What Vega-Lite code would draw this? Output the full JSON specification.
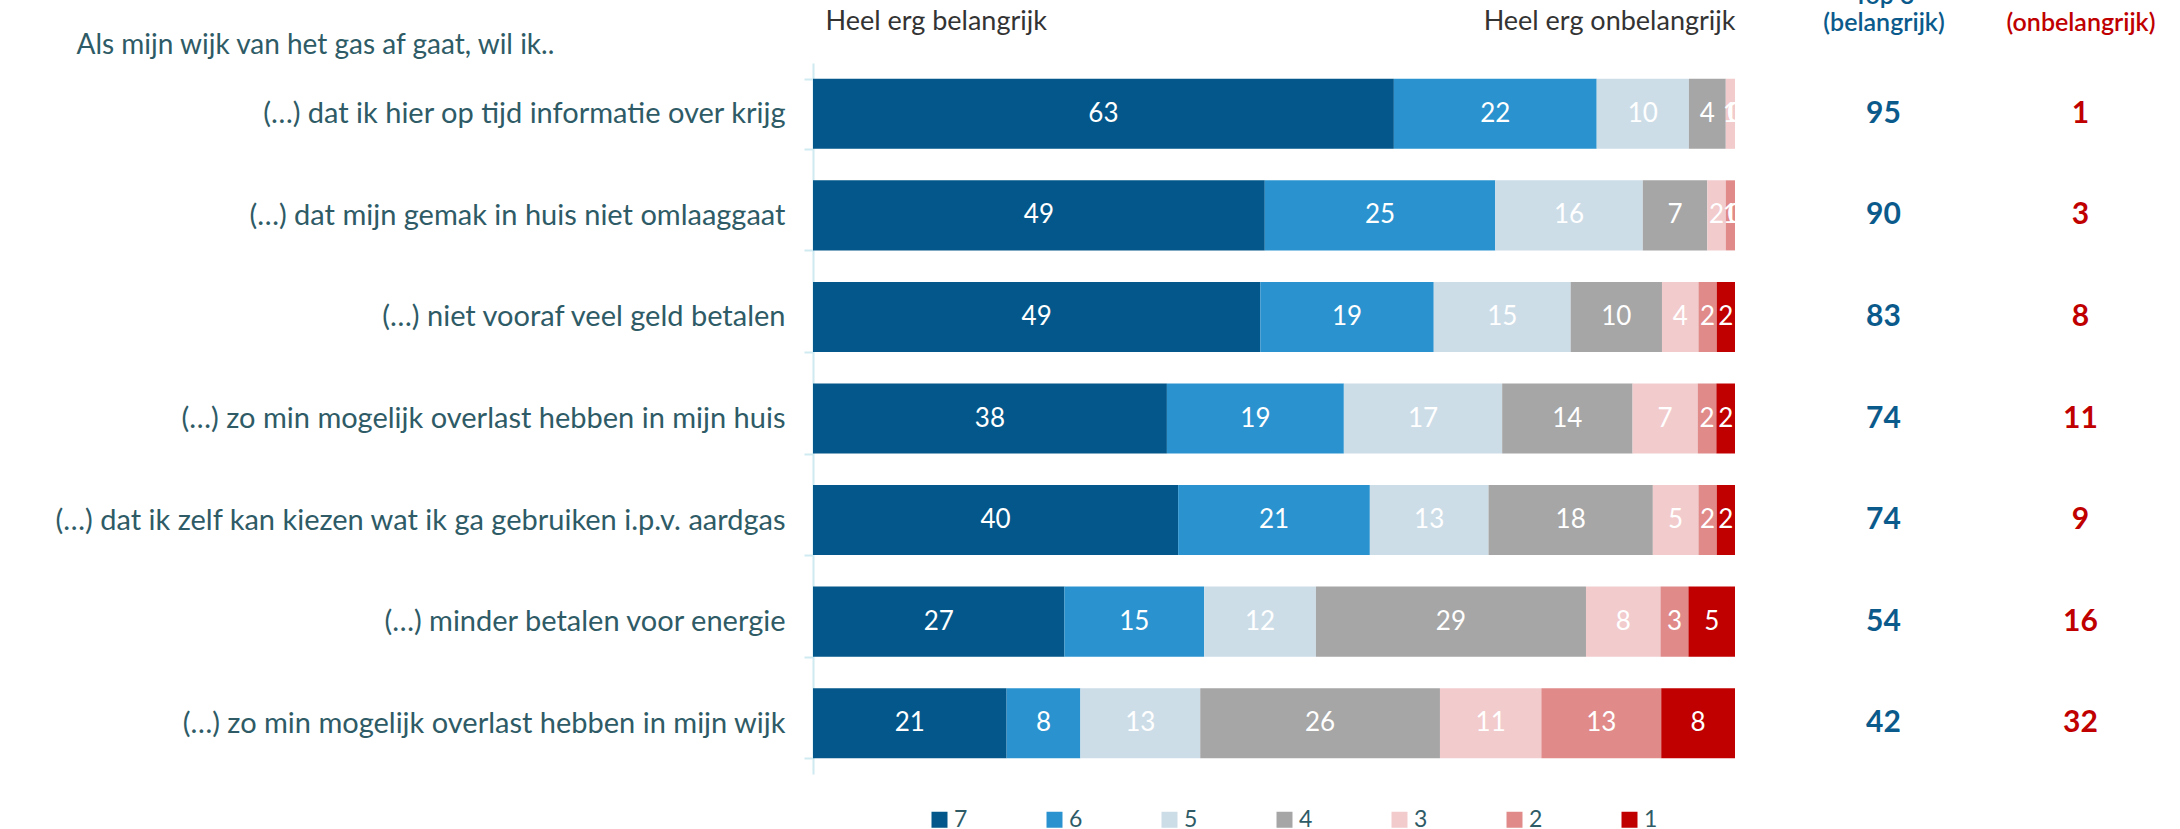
{
  "$schema": "https://vega.github.io/schema/vega-lite/v6.json",
  "background": "white",
  "padding": {"left": 53, "top": -17, "right": 0, "bottom": 0},
  "spacing": 50,
  "config": {"font": "Lato", "view": {"stroke": null}},
  "datasets": {
    "bars": [
      {"item": "(…) dat ik hier op tijd informatie over krijg", "level": "7", "value": 63},
      {"item": "(…) dat ik hier op tijd informatie over krijg", "level": "6", "value": 22},
      {"item": "(…) dat ik hier op tijd informatie over krijg", "level": "5", "value": 10},
      {"item": "(…) dat ik hier op tijd informatie over krijg", "level": "4", "value": 4},
      {"item": "(…) dat ik hier op tijd informatie over krijg", "level": "3", "value": 1},
      {"item": "(…) dat ik hier op tijd informatie over krijg", "level": "2", "value": 0},
      {"item": "(…) dat ik hier op tijd informatie over krijg", "level": "1", "value": 0},
      {"item": "(…) dat mijn gemak in huis niet omlaaggaat", "level": "7", "value": 49},
      {"item": "(…) dat mijn gemak in huis niet omlaaggaat", "level": "6", "value": 25},
      {"item": "(…) dat mijn gemak in huis niet omlaaggaat", "level": "5", "value": 16},
      {"item": "(…) dat mijn gemak in huis niet omlaaggaat", "level": "4", "value": 7},
      {"item": "(…) dat mijn gemak in huis niet omlaaggaat", "level": "3", "value": 2},
      {"item": "(…) dat mijn gemak in huis niet omlaaggaat", "level": "2", "value": 1},
      {"item": "(…) dat mijn gemak in huis niet omlaaggaat", "level": "1", "value": 0},
      {"item": "(…) niet vooraf veel geld betalen", "level": "7", "value": 49},
      {"item": "(…) niet vooraf veel geld betalen", "level": "6", "value": 19},
      {"item": "(…) niet vooraf veel geld betalen", "level": "5", "value": 15},
      {"item": "(…) niet vooraf veel geld betalen", "level": "4", "value": 10},
      {"item": "(…) niet vooraf veel geld betalen", "level": "3", "value": 4},
      {"item": "(…) niet vooraf veel geld betalen", "level": "2", "value": 2},
      {"item": "(…) niet vooraf veel geld betalen", "level": "1", "value": 2},
      {"item": "(…) zo min mogelijk overlast hebben in mijn huis", "level": "7", "value": 38},
      {"item": "(…) zo min mogelijk overlast hebben in mijn huis", "level": "6", "value": 19},
      {"item": "(…) zo min mogelijk overlast hebben in mijn huis", "level": "5", "value": 17},
      {"item": "(…) zo min mogelijk overlast hebben in mijn huis", "level": "4", "value": 14},
      {"item": "(…) zo min mogelijk overlast hebben in mijn huis", "level": "3", "value": 7},
      {"item": "(…) zo min mogelijk overlast hebben in mijn huis", "level": "2", "value": 2},
      {"item": "(…) zo min mogelijk overlast hebben in mijn huis", "level": "1", "value": 2},
      {"item": "(…) dat ik zelf kan kiezen wat ik ga gebruiken i.p.v. aardgas", "level": "7", "value": 40},
      {"item": "(…) dat ik zelf kan kiezen wat ik ga gebruiken i.p.v. aardgas", "level": "6", "value": 21},
      {"item": "(…) dat ik zelf kan kiezen wat ik ga gebruiken i.p.v. aardgas", "level": "5", "value": 13},
      {"item": "(…) dat ik zelf kan kiezen wat ik ga gebruiken i.p.v. aardgas", "level": "4", "value": 18},
      {"item": "(…) dat ik zelf kan kiezen wat ik ga gebruiken i.p.v. aardgas", "level": "3", "value": 5},
      {"item": "(…) dat ik zelf kan kiezen wat ik ga gebruiken i.p.v. aardgas", "level": "2", "value": 2},
      {"item": "(…) dat ik zelf kan kiezen wat ik ga gebruiken i.p.v. aardgas", "level": "1", "value": 2},
      {"item": "(…) minder betalen voor energie", "level": "7", "value": 27},
      {"item": "(…) minder betalen voor energie", "level": "6", "value": 15},
      {"item": "(…) minder betalen voor energie", "level": "5", "value": 12},
      {"item": "(…) minder betalen voor energie", "level": "4", "value": 29},
      {"item": "(…) minder betalen voor energie", "level": "3", "value": 8},
      {"item": "(…) minder betalen voor energie", "level": "2", "value": 3},
      {"item": "(…) minder betalen voor energie", "level": "1", "value": 5},
      {"item": "(…) zo min mogelijk overlast hebben in mijn wijk", "level": "7", "value": 21},
      {"item": "(…) zo min mogelijk overlast hebben in mijn wijk", "level": "6", "value": 8},
      {"item": "(…) zo min mogelijk overlast hebben in mijn wijk", "level": "5", "value": 13},
      {"item": "(…) zo min mogelijk overlast hebben in mijn wijk", "level": "4", "value": 26},
      {"item": "(…) zo min mogelijk overlast hebben in mijn wijk", "level": "3", "value": 11},
      {"item": "(…) zo min mogelijk overlast hebben in mijn wijk", "level": "2", "value": 13},
      {"item": "(…) zo min mogelijk overlast hebben in mijn wijk", "level": "1", "value": 8}
    ],
    "summary": [
      {"item": "(…) dat ik hier op tijd informatie over krijg", "key": "top", "score": 95},
      {"item": "(…) dat ik hier op tijd informatie over krijg", "key": "bottom", "score": 1},
      {"item": "(…) dat mijn gemak in huis niet omlaaggaat", "key": "top", "score": 90},
      {"item": "(…) dat mijn gemak in huis niet omlaaggaat", "key": "bottom", "score": 3},
      {"item": "(…) niet vooraf veel geld betalen", "key": "top", "score": 83},
      {"item": "(…) niet vooraf veel geld betalen", "key": "bottom", "score": 8},
      {"item": "(…) zo min mogelijk overlast hebben in mijn huis", "key": "top", "score": 74},
      {"item": "(…) zo min mogelijk overlast hebben in mijn huis", "key": "bottom", "score": 11},
      {"item": "(…) dat ik zelf kan kiezen wat ik ga gebruiken i.p.v. aardgas", "key": "top", "score": 74},
      {"item": "(…) dat ik zelf kan kiezen wat ik ga gebruiken i.p.v. aardgas", "key": "bottom", "score": 9},
      {"item": "(…) minder betalen voor energie", "key": "top", "score": 54},
      {"item": "(…) minder betalen voor energie", "key": "bottom", "score": 16},
      {"item": "(…) zo min mogelijk overlast hebben in mijn wijk", "key": "top", "score": 42},
      {"item": "(…) zo min mogelijk overlast hebben in mijn wijk", "key": "bottom", "score": 32}
    ]
  },
  "hconcat": [
    {
      "width": 922,
      "height": 711,
      "data": {"name": "bars"},
      "encoding": {
        "y": {
          "field": "item", "type": "nominal", "sort": null,
          "scale": {"paddingInner": 0.31, "paddingOuter": 0.155},
          "axis": {
            "title": "Als mijn wijk van het gas af gaat, wil ik..",
            "titleAngle": 0, "titleAlign": "left", "titleBaseline": "middle",
            "titleX": -737, "titleY": -18, "titleFontSize": 28, "titleFontWeight": "normal",
            "titleColor": "#2e5b66",
            "labelFontSize": 29, "labelColor": "#2e5b66", "labelPadding": 19, "labelLimit": 1200,
            "tickSize": 9, "tickBand": "extent", "tickColor": "#cfeaf0", "tickWidth": 2,
            "domainColor": "#cfeaf0", "domainWidth": 2, "grid": false
          }
        }
      },
      "layer": [
        {
          "mark": {"type": "bar"},
          "encoding": {
            "x": {
              "field": "value", "type": "quantitative", "stack": "normalize",
              "scale": {"domain": [0, 1], "nice": false},
              "axis": {
                "orient": "top", "values": [0.013, 1], "title": null,
                "labelExpr": "datum.value < 0.5 ? 'Heel erg belangrijk' : 'Heel erg onbelangrijk'",
                "labelAlign": {"condition": {"test": "datum.value < 0.5", "value": "left"}, "value": "right"},
                "labelFontSize": 27, "labelColor": "#333333", "labelPadding": 28, "labelLimit": 1000,
                "ticks": false, "domain": false, "grid": false, "labelOverlap": false, "labelBound": false
              }
            },
            "color": {
              "field": "level", "type": "nominal",
              "scale": {"domain": ["7", "6", "5", "4", "3", "2", "1"],
                        "range": ["#03578a", "#2a93cf", "#cddde8", "#a6a6a6", "#f2cbcd", "#e08a8a", "#c00000"]},
              "legend": {
                "orient": "none", "legendX": 115, "legendY": 745, "direction": "horizontal",
                "title": null, "symbolType": "square", "symbolSize": 256,
                "symbolStrokeWidth": 0, "labelFontSize": 23, "labelColor": "#2e5b66",
                "labelOffset": 3, "columnPadding": 75, "padding": 0
              }
            },
            "order": {"field": "level", "type": "ordinal", "sort": "descending"}
          }
        },
        {
          "mark": {"type": "text", "color": "white", "fontSize": 26, "clip": true, "baseline": "middle"},
          "encoding": {
            "x": {"field": "value", "type": "quantitative", "stack": "normalize", "bandPosition": 0.5, "title": null},
            "detail": {"field": "level", "type": "nominal"},
            "order": {"field": "level", "type": "ordinal", "sort": "descending"},
            "text": {"field": "value", "type": "quantitative"}
          }
        }
      ]
    },
    {
      "width": 394,
      "height": 711,
      "data": {"name": "summary"},
      "mark": {"type": "text", "fontSize": 30, "fontWeight": "bold", "baseline": "middle"},
      "encoding": {
        "y": {"field": "item", "type": "nominal", "sort": null, "scale": {"paddingInner": 0.31, "paddingOuter": 0.155}, "axis": null},
        "x": {
          "field": "key", "type": "nominal", "sort": ["top", "bottom"],
          "scale": {"paddingInner": 0, "paddingOuter": 0},
          "axis": {
            "orient": "top", "title": null, "ticks": false, "domain": false, "grid": false,
            "labelAngle": 0,
            "labelExpr": "datum.value == 'top' ? ['Top 3', '(belangrijk)'] : ['', '(onbelangrijk)']",
            "labelColor": {"condition": {"test": "datum.value == 'top'", "value": "#0b5a8c"}, "value": "#c00000"},
            "labelFontSize": 25, "labelFontWeight": 600, "labelPadding": 55, "labelLimit": 500,
            "labelLineHeight": 27, "labelOverlap": false, "labelBound": false
          }
        },
        "color": {"condition": {"test": "datum.key == 'top'", "value": "#0b5a8c"}, "value": "#c00000"},
        "text": {"field": "score", "type": "quantitative"}
      }
    }
  ]
}
